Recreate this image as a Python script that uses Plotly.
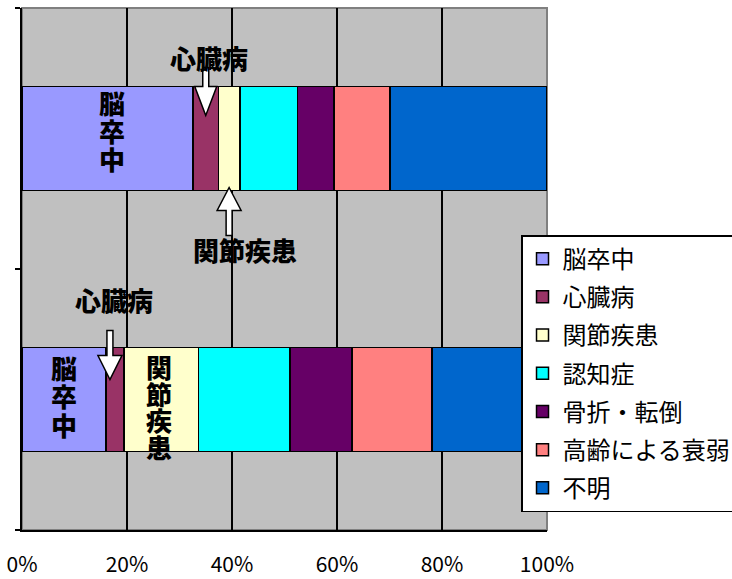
import plotly.graph_objects as go

categories = ["女性", "男性"]  # bottom bar, top bar
causes = ["脳卒中", "心臓病", "関節疾患", "認知症", "骨折・転倒", "高齢による衰弱", "不明"]
female = [16.0, 3.4, 14.2, 17.4, 11.9, 15.2, 21.9]
male = [32.6, 4.8, 4.1, 11.0, 6.9, 10.7, 29.9]
colors = ["#9999FF", "#993366", "#FFFFCC", "#00FFFF", "#660066", "#FF8080", "#0066CC"]
x_ticks = [0, 0.2, 0.4, 0.6, 0.8, 1.0]

FONT = "Noto Sans CJK JP"

fig = go.Figure()
for i, c in enumerate(causes):
    fig.add_trace(go.Bar(
        y=categories, x=[female[i] / 100, male[i] / 100], name=c, orientation="h",
        marker=dict(color=colors[i], line=dict(color="black", width=1.5)),
        legendgroup=c,
    ))


def seg_center(vals, idx):
    return (sum(vals[:idx]) + vals[idx] / 2) / 100


def arrow(vals, idx, cat, tip, s, head_len, head_hw, shaft_hw, total, dx=0):
    pts = [(0, 0), (-head_hw, head_len), (-shaft_hw, head_len), (-shaft_hw, total),
           (shaft_hw, total), (shaft_hw, head_len), (head_hw, head_len)]
    path = "M" + " L".join(f"{px + dx},{tip + s * py}" for px, py in pts) + " Z"
    fig.add_shape(type="path", xref="x", yref="y", xsizemode="pixel", ysizemode="pixel",
                  xanchor=seg_center(vals, idx), yanchor=cat, path=path,
                  fillcolor="white", line=dict(color="black", width=1.5), layer="above")


def label(text, vals, idx, cat, xshift, yshift, size=26):
    fig.add_annotation(x=seg_center(vals, idx), y=cat, xref="x", yref="y", text=text,
                       showarrow=False, xshift=xshift, yshift=yshift,
                       font=dict(family=FONT, size=size, color="black", weight=900))


def vlabel(text, vals, idx, cat, xshift, center, pitch, size=26):
    n = len(text)
    for k, ch in enumerate(text):
        label(ch, vals, idx, cat, xshift, center + ((n - 1) / 2 - k) * pitch, size)


# top bar (male)
arrow(male, 1, "男性", 23, 1, 29, 11, 3, 48)
arrow(male, 2, "男性", -49, -1, 23, 12, 3, 48)
label("心臓病", male, 1, "男性", 3, 81)
label("関節疾患", male, 2, "男性", 16, -111)
vlabel("脳卒中", male, 0, "男性", 4, 8, 28)
# bottom bar (female)
arrow(female, 1, "女性", 20, 1, 24, 12, 3, 49, dx=-5)
label("心臓病", female, 1, "女性", -1, 100)
vlabel("脳卒中", female, 0, "女性", 0, 4, 28.5)
vlabel("関節疾患", female, 2, "女性", -2, -7, 26.7)

# plot-area border
fig.add_shape(type="rect", xref="paper", yref="paper", x0=0, x1=1, y0=0, y1=1,
              line=dict(color="#808080", width=2), layer="below")

fig.update_layout(
    width=732, height=579,
    margin=dict(l=22, r=185, t=8, b=49, autoexpand=False),
    barmode="stack", bargap=0.6,
    plot_bgcolor="#C0C0C0", paper_bgcolor="white",
    font=dict(family=FONT, color="black"),
    showlegend=True,
    legend=dict(x=0.9505, y=0.565, xanchor="left", yanchor="top",
                bgcolor="white", bordercolor="black", borderwidth=1.5,
                font=dict(family=FONT, size=24, color="black"),
                traceorder="grouped", tracegroupgap=4),
    xaxis=dict(range=[0, 1], tickvals=x_ticks, tickformat=".0%", automargin=False,
               showgrid=True, gridcolor="black", gridwidth=1.5, zeroline=False,
               showline=True, linecolor="black", linewidth=2, ticks="",
               ticklabelstandoff=15, tickfont=dict(family=FONT, size=21, color="black")),
    yaxis=dict(type="category", range=[-0.5, 1.5], showticklabels=False, automargin=False,
               showgrid=False, zeroline=False, showline=True, linecolor="black", linewidth=2,
               ticks="outside", ticklen=5, tickcolor="black", tickwidth=1.5, tickson="boundaries"),
)

fig.write_html("out.html")
